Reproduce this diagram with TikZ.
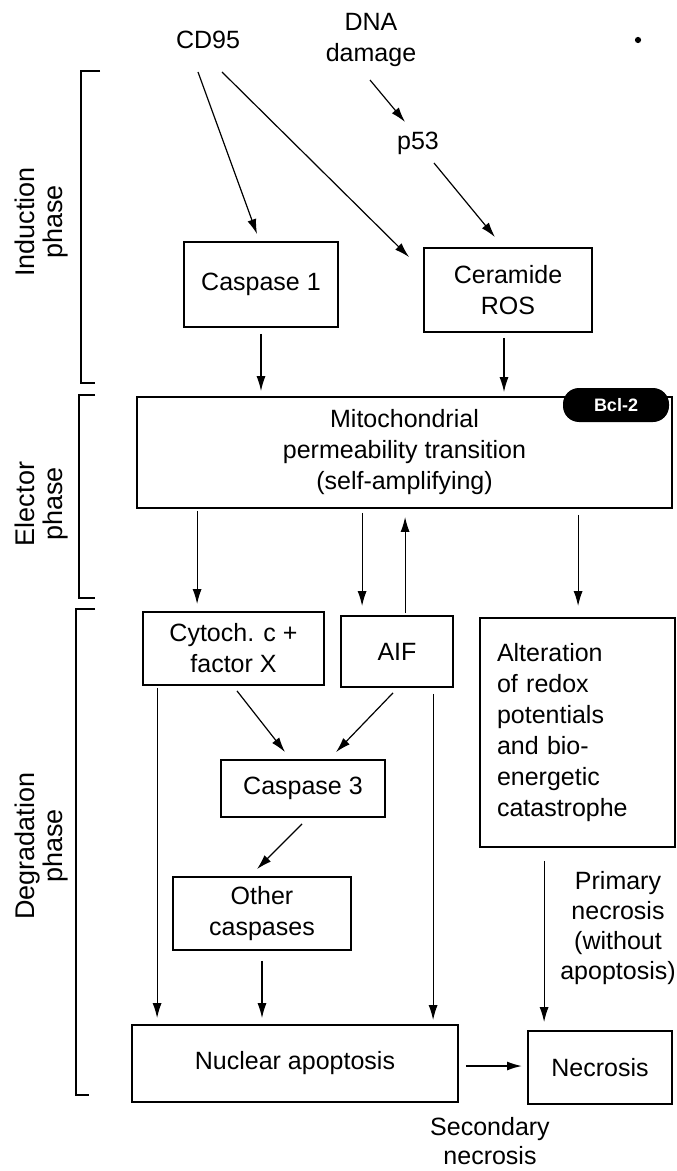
\documentclass[tikz,border=0pt]{standalone}
\usepackage{fontspec}
\setmainfont{Liberation Sans}
\usetikzlibrary{arrows.meta,calc}
\tikzset{
  box/.style={draw, line width=0.9pt, align=center, inner sep=0pt},
  arr/.style={-{Latex[length=7.5pt,width=4.5pt]}, line width=0.6pt},
  brk/.style={line width=0.7pt},
  lbl/.style={align=center, inner sep=0pt},
  phase/.style={align=center, inner sep=0pt, rotate=90, font=\fontsize{13.5}{14}\selectfont},
  badge/.style={fill=black, text=white, rounded corners=8pt, inner sep=0pt, font=\fontsize{9}{10}\selectfont\bfseries},
}
\begin{document}
\begin{tikzpicture}[x=0.5pt, y=-0.5pt, font=\fontsize{12.5}{15.5}\selectfont]
\useasboundingbox (0,0) rectangle (676,1171);

% phase labels and brackets
\node[phase] (ind) at (42,222) {Induction\\phase};
\node[phase] (eff) at (42,504) {Elector\\phase};
\node[phase] (deg) at (42,846) {Degradation\\phase};
\draw[brk] (100,71) -- (81,71) -- (81,383) -- (95,383);
\draw[brk] (95,395) -- (79,395) -- (79,598) -- (95,598);
\draw[brk] (95,609) -- (76,609) -- (76,1095) -- (89,1095);

% top
\node[lbl] (cd95) at (208,40) {CD95};
\node[lbl] (dna) at (371,40) {DNA\\damage};
\node[circle, fill, inner sep=1.1pt] (dot) at (638,40) {};
\node[lbl] (p53) at (418,143) {p53};

% boxes
\node[box, minimum width=77pt, minimum height=42.5pt] (cas1) at (261,284.5) {Caspase 1};
\node[box, minimum width=84pt, minimum height=42pt] (cer) at (508,290) {Ceramide\\ROS};
\node[box, minimum width=267.5pt, minimum height=55.5pt] (mito) at (404.5,452.5)
  {Mitochondrial\\permeability transition\\(self-amplifying)};
\node[badge, minimum width=53pt, minimum height=17pt] (bcl) at (616,405) {Bcl-2};
\node[box, minimum width=90.5pt, minimum height=36.5pt] (cyt) at (233.5,648.5) {Cytoch. c +\\factor X};
\node[box, minimum width=56pt, minimum height=35.5pt] (aif) at (397,651.5) {AIF};
\node[box, align=left, inner xsep=8.5pt, text width=80.5pt, minimum height=114.5pt] (alt) at (577.5,732.5)
  {Alteration\\of redox\\potentials\\and bio-\\energetic\\catastrophe};
\node[box, minimum width=82pt, minimum height=28.5pt] (cas3) at (303,788.5) {Caspase 3};
\node[box, minimum width=89pt, minimum height=36.5pt] (oth) at (262,913.5) {Other\\caspases};
\node[box, minimum width=163pt, minimum height=38.5pt] (nuc) at (295,1063.5) {Nuclear apoptosis};
\node[box, minimum width=72pt, minimum height=36.5pt] (nec) at (600,1067.5) {Necrosis};
\node[lbl, font=\fontsize{12.5}{15}\selectfont] (prim) at (618,928) {Primary\\necrosis\\(without\\apoptosis)};
\node[lbl, font=\fontsize{12.5}{14.5}\selectfont] (sec) at (490,1141) {Secondary\\necrosis};

% arrows
\draw[arr] ($(cd95.center)+(-10,32)$) -- ($(cas1.north)+(-4,-7)$);
\draw[arr] ($(cd95.center)+(14,32)$) -- ($(cer.north west)+(-14,10)$);
\draw[arr] ($(dna.center)+(-1,40)$) -- ($(p53.center)+(-13,-21)$);
\draw[arr] ($(p53.center)+(16,20)$) -- ($(cer.north)+(-13,-10)$);
\draw[arr, shorten <=3pt, shorten >=2.5pt] (cas1.south) -- (cas1.south |- mito.north);
\draw[arr, shorten <=2.5pt, shorten >=2pt] ($(cer.south)+(-4,0)$) -- ($(cer.south |- mito.north)+(-4,0)$);
\draw[arr, shorten <=1pt, shorten >=3.5pt] ($(mito.south -| cyt.north west)+(55,0)$) -- ($(cyt.north west)+(55,0)$);
\draw[arr, shorten <=2pt, shorten >=4.5pt] ($(mito.south -| aif.north west)+(22,0)$) -- ($(aif.north west)+(22,0)$);
\draw[arr, shorten <=1pt, shorten >=4pt] ($(aif.north west)+(65,0)$) -- ($(mito.south -| aif.north west)+(65,0)$);
\draw[arr, shorten <=3pt, shorten >=5.5pt] ($(mito.south -| alt.north west)+(99,0)$) -- ($(alt.north west)+(99,0)$);
\draw[arr] ($(cyt.south)+(3.5,5)$) -- ($(cas3.north)+(-18,-7)$);
\draw[arr] ($(aif.south)+(-4,5)$) -- ($(cas3.north)+(33,-7)$);
\draw[arr] ($(cas3.south)+(-1,6)$) -- ($(oth.north)+(-5,-7)$);
\draw[arr, shorten <=1pt, shorten >=3pt] ($(cyt.south west)+(15,0)$) -- ($(cyt.south west |- nuc.north)+(15,0)$);
\draw[arr, shorten <=5pt, shorten >=3pt] (oth.south) -- (oth.south |- nuc.north);
\draw[arr, shorten <=3pt, shorten >=2pt] ($(aif.south west)+(93,0)$) -- ($(aif.south west |- nuc.north)+(93,0)$);
\draw[arr, shorten <=6.5pt, shorten >=4pt] ($(alt.south west)+(65,0)$) -- ($(alt.south west |- nec.north)+(65,0)$);
\draw[arr, line width=0.9pt, shorten <=3.5pt, shorten >=2.5pt] ($(nuc.east)+(0,2.5)$) -- ($(nuc.east -| nec.west)+(0,2.5)$);
\end{tikzpicture}
\end{document}
